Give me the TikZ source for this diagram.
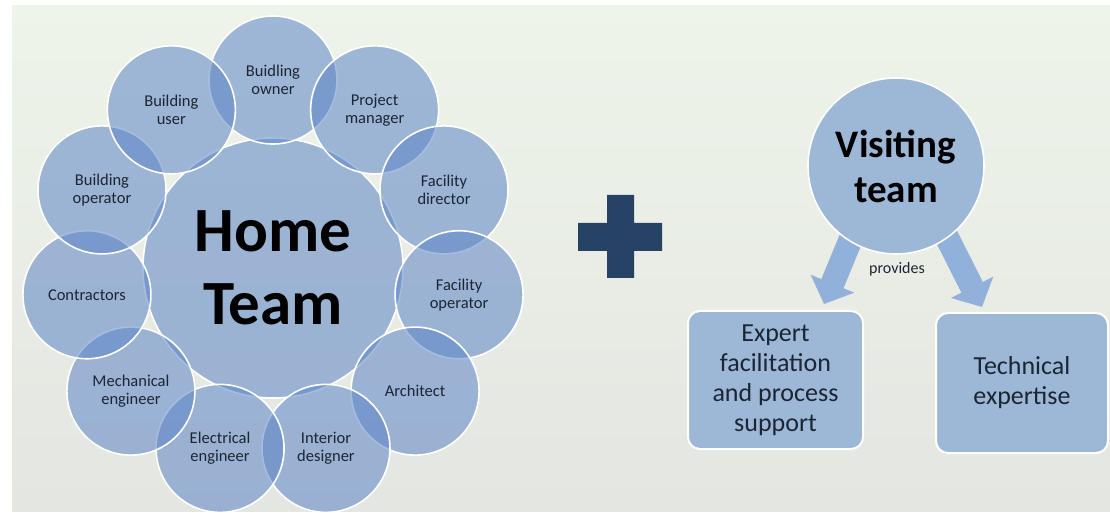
\documentclass[tikz,border=0pt]{standalone}
\usepackage{fontspec}
\setmainfont{Carlito}
\usetikzlibrary{calc,arrows.meta}
\definecolor{panelTop}{HTML}{EEF4EA}
\definecolor{panelBot}{HTML}{E4E6E1}
\definecolor{memberBlue}{HTML}{5D85C6}
\definecolor{teamBlue}{HTML}{9DB8D6}
\definecolor{arrowBlue}{HTML}{92B1DA}
\definecolor{plusNavy}{HTML}{264366}
\definecolor{labelDark}{HTML}{1C2533}
\pgfdeclarelayer{back}
\pgfdeclarelayer{mid}
\pgfsetlayers{back,mid,main}
\begin{document}
\begin{tikzpicture}[x=1pt,y=1pt,
	member/.style={circle, draw=white, line width=1.6pt, fill=memberBlue, fill opacity=.55, text opacity=1,
		minimum size=128pt, inner sep=0pt, align=center, text=labelDark, font=\fontsize{16.5}{18}\selectfont},
	hub/.style={member, minimum size=260pt, text=black, font=\bfseries\fontsize{63}{73}\selectfont},
	offer/.style={rectangle, rounded corners=12pt, draw=white, line width=2pt, fill=teamBlue, align=center,
		text=labelDark, font=\fontsize{26}{30}\selectfont},
	bigarrow/.style={draw=arrowBlue, line width=24pt, -{Triangle[width=46pt,length=22pt]}}]
	\useasboundingbox (0,0) rectangle (1110,514);
	\begin{pgfonlayer}{back}
		\shade[top color=panelTop, bottom color=panelBot] (12,3) rectangle (1110,508);
	\end{pgfonlayer}

	% home team
	\node[hub] (home) at (273,246) {Home\\Team};
	\foreach \nm/\txt [count=\i from 0] in {owner/{Buidling\\owner}, pm/{Project\\manager},
		fdir/{Facility\\director}, fop/{Facility\\operator}, arch/{Architect}, intd/{Interior\\designer},
		elec/{Electrical\\engineer}, mech/{Mechanical\\engineer}, contr/{Contractors},
		bop/{Building\\operator}, buser/{Building\\user}}
		\node[member] (\nm) at ($(home)+({90-\i*360/11}:188)$) {\txt};

	% plus
	\fill[plusNavy] (578,263) rectangle (662,291) (607,236) rectangle (634,319);

	% visiting team
	\node[circle, draw=white, line width=1.6pt, fill=teamBlue, minimum size=176pt, inner sep=0pt, align=center,
		font=\bfseries\fontsize{39}{45}\selectfont] (vt) at (896,348) {Visiting\\team};
	\node[offer, minimum width=175pt, minimum height=138pt] (exp) at (775.5,134)
		{Expert\\facilitation\\and process\\support};
	\node[offer, minimum width=172pt, minimum height=140pt] (tech) at (1022,131) {Technical\\expertise};
	\begin{pgfonlayer}{mid}
		\draw[bigarrow] ([xshift=-15pt]vt.center) -- ([shift={(-40pt,6pt)}]exp.north east);
		\draw[bigarrow] ([xshift=15pt]vt.center) -- ([shift={(47pt,5pt)}]tech.north west);
	\end{pgfonlayer}
	\node[text=labelDark, font=\fontsize{16}{18}\selectfont] (prov) at (897,245) {provides};
\end{tikzpicture}
\end{document}
